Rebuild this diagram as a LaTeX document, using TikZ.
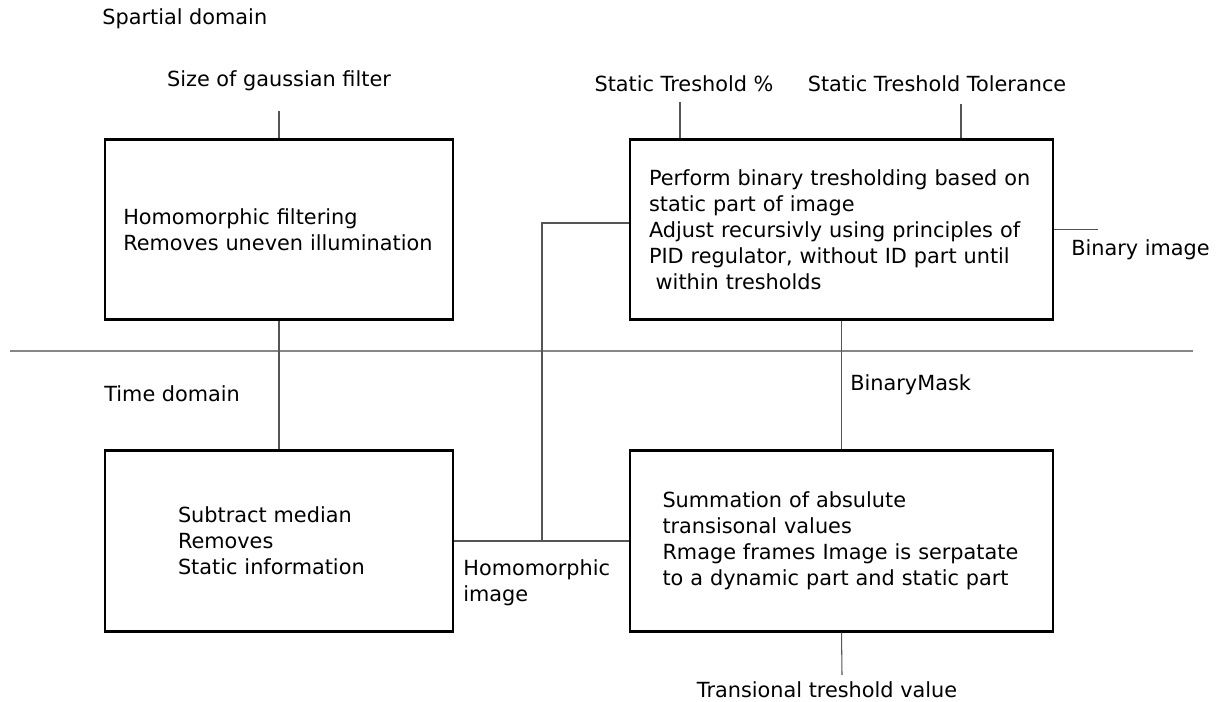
\documentclass[tikz,border=0pt]{standalone}
\usepackage{fontspec}
\setmainfont{DejaVu Sans}
\definecolor{wiregray}{RGB}{85,85,85}
\definecolor{sepgray}{RGB}{135,135,135}

\begin{document}
\begin{tikzpicture}[font=\fontsize{11.85}{14.8}\selectfont,
  procbox/.style={draw, line width=1.5pt, align=left, minimum height=3.61cm},
  wire/.style={draw=wiregray, line width=0.6pt},
  lbl/.style={inner sep=0pt}]
\useasboundingbox (0,0) rectangle (24.52,14.04);

% Domains
\node[lbl, anchor=west] (spatial) at (2.04,13.66) {Spartial domain};
\node[lbl, anchor=west] (timedom) at (2.08,6.16) {Time domain};
\draw[draw=sepgray, line width=1.1pt] (0.2,7.02) -- (23.86,7.02);

% Processing boxes
\node[procbox, minimum width=6.96cm, text width=6.23cm] (homfilt) at (5.58,9.45) {Homomorphic filtering\\Removes uneven illumination};
\node[procbox, minimum width=8.46cm, text width=7.7cm] (binthr) at (16.83,9.45) {Perform binary tresholding based on\\static part of image\\Adjust recursivly using principles of\\PID regulator, without ID part until\\\hspace*{0.32em}within tresholds};
\node[procbox, minimum width=6.96cm, text width=4.04cm] (submed) at (5.58,3.22) {Subtract median\\Removes\\Static information};
\node[procbox, minimum width=8.46cm, text width=7.16cm] (summ) at (16.83,3.22) {Summation of absulute\\transisonal values\\Rmage frames Image is serpatate\\to a dynamic part and static part};

% Parameters
\node[lbl] (gausssize) at (5.58,12.42) {Size of gaussian filter};
\coordinate (gaussin) at (5.58,11.82);
\draw[wire] (gaussin) -- (homfilt.north);

\node[lbl] (thrpct) at (13.68,12.36) {Static Treshold \%};
\node[lbl] (thrtol) at (18.74,12.36) {Static Treshold Tolerance};
\coordinate (pctin) at (13.6,12.0);
\coordinate (tolin) at (19.22,11.96);
\draw[wire] (pctin) -- (pctin |- binthr.north);
\draw[wire] (tolin) -- (tolin |- binthr.north);

% Binary image out
\coordinate (binout) at (21.96,9.45);
\draw[wire] (binthr.east) -- (binout);
\node[lbl, anchor=west] (binimg) at (21.42,9.04) {Binary image};

% Down links
\draw[wire] (homfilt) -- (submed);
\draw[wire] (binthr) -- (summ);
\node[lbl, anchor=west] (bmask) at (17.0,6.34) {BinaryMask};

% Homomorphic image
\draw[wire] (submed) -- (summ);
\coordinate (hjunc) at (10.84,3.22);
\draw[wire] (hjunc) |- ([yshift=0.13cm]binthr.west);
\node[lbl, anchor=west, align=left] (homimg) at (9.26,2.39) {Homomorphic\\image};

% Transitional threshold
\coordinate (transin) at (16.84,0.54);
\draw[wire] (summ.south) -- (transin);
\node[lbl] (transval) at (16.54,0.24) {Transional treshold value};
\end{tikzpicture}
\end{document}
